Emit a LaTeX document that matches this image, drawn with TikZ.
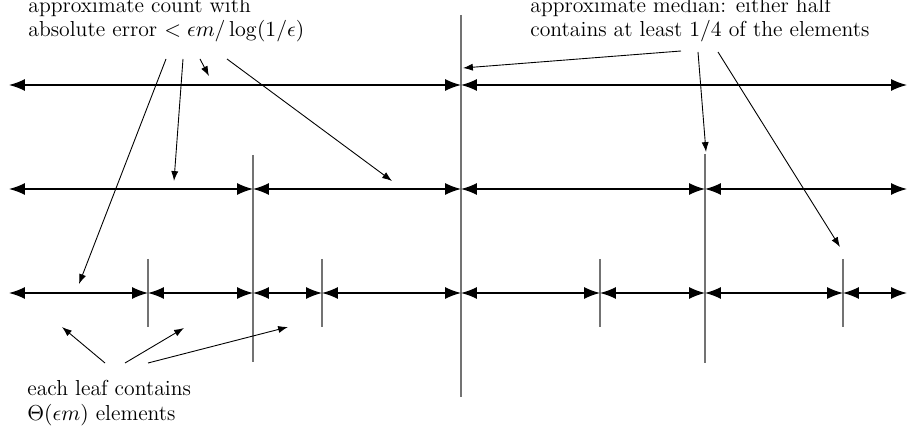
\documentclass[tikz,border=0pt]{standalone}
\usepackage{amsmath}
\usetikzlibrary{arrows.meta}
\tikzset{seg/.style = {{Latex[length=8pt,width=6pt]}-{Latex[length=8pt,width=6pt]}, line width=0.7pt},
         split/.style = {draw=black!55, line width=0.6pt},
         pointer/.style = {-{Latex[length=5pt,width=3.6pt]}, line width=0.45pt},
         note/.style = {align=left, inner sep=0pt, anchor=base west, font=\fontsize{11}{12.2}\selectfont},
}

\begin{document}
\begin{tikzpicture}[x=0.507pt, y=-0.507pt]
  \useasboundingbox (0,0) rectangle (908,431);

  % labels
  \node[note] (COUNT) at (28,37) {approximate count with\\absolute error $< \epsilon m/\log(1/\epsilon)$};
  \node[note] (MEDIAN) at (530,37) {approximate median: either half\\contains at least $1/4$ of the elements};
  \node[note] (LEAF) at (27,420) {each leaf contains\\$\Theta(\epsilon m)$ elements};

  % split lines
  \coordinate (S0a) at (461,15);  \coordinate (S0b) at (461,397);
  \coordinate (S1a) at (253,155); \coordinate (S1b) at (253,362);
  \coordinate (S2a) at (705,154); \coordinate (S2b) at (705,363);
  \coordinate (S3a) at (148,259); \coordinate (S3b) at (148,327);
  \coordinate (S4a) at (322,259); \coordinate (S4b) at (322,327);
  \coordinate (S5a) at (600,259); \coordinate (S5b) at (600,327);
  \coordinate (S6a) at (843,259); \coordinate (S6b) at (843,327);
  \foreach \s in {0,...,6}
    \draw[split] (S\s a) -- (S\s b);

  % levels of the tree
  \foreach \x [count=\i] in {9,461,907}
    \coordinate (A\i) at (\x,85);
  \foreach \x [count=\i] in {9,253,461,705,907}
    \coordinate (B\i) at (\x,189);
  \foreach \x [count=\i] in {9,148,253,322,461,600,705,843,907}
    \coordinate (C\i) at (\x,293);

  \draw[seg] (A1) -- (A2);
  \draw[seg] (A2) -- (A3);
  \foreach \a/\b in {1/2,2/3,3/4,4/5}
    \draw[seg] (B\a) -- (B\b);
  \foreach \a/\b in {1/2,2/3,3/4,4/5,5/6,6/7,7/8,8/9}
    \draw[seg] (C\a) -- (C\b);

  % pointers from the count label
  \coordinate (cnt1) at (166,59); \coordinate (cnt1t) at (79,284);
  \coordinate (cnt2) at (183,59); \coordinate (cnt2t) at (174,181);
  \coordinate (cnt3) at (200,59); \coordinate (cnt3t) at (209,76);
  \coordinate (cnt4) at (227,59); \coordinate (cnt4t) at (392,181);
  \foreach \i in {1,...,4}
    \draw[pointer] (cnt\i) -- (cnt\i t);

  % pointers from the median label
  \coordinate (med1) at (681,51); \coordinate (med1t) at (463,68);
  \coordinate (med2) at (698,52); \coordinate (med2t) at (706,152);
  \coordinate (med3) at (718,52); \coordinate (med3t) at (840,247);
  \foreach \i in {1,...,3}
    \draw[pointer] (med\i) -- (med\i t);

  % pointers from the leaf label
  \coordinate (lf1) at (105,363); \coordinate (lf1t) at (62,327);
  \coordinate (lf2) at (125,363); \coordinate (lf2t) at (184,328);
  \coordinate (lf3) at (148,363); \coordinate (lf3t) at (288,327);
  \foreach \i in {1,...,3}
    \draw[pointer] (lf\i) -- (lf\i t);
\end{tikzpicture}
\end{document}
